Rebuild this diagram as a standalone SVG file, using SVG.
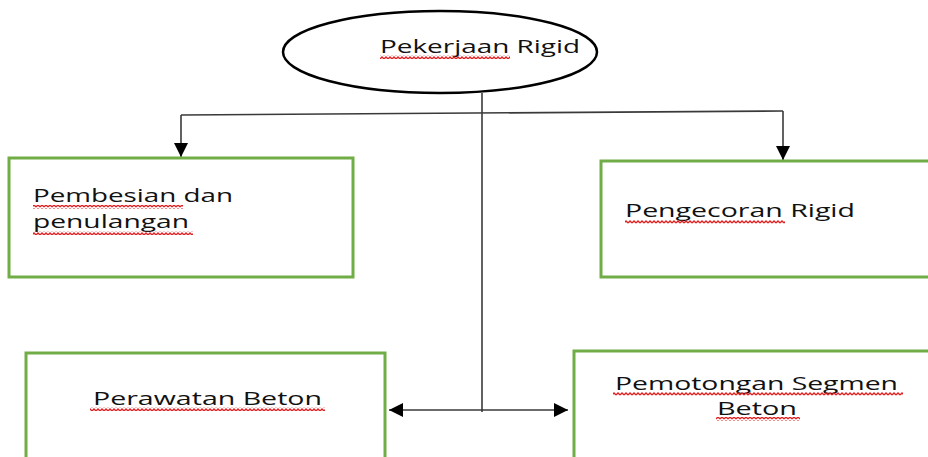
<svg xmlns="http://www.w3.org/2000/svg" width="928" height="457" viewBox="0 0 928 457">
<style>
.box{fill:#fff;stroke:#70AD47;stroke-width:3}
.t{font-family:"Open Sans","Liberation Sans",sans-serif;font-size:19px;fill:#111}
.ln{fill:none;stroke:#3a3a3a;stroke-width:1.6}
.sq{fill:url(#wave)}
</style>
<defs>
<pattern id="wave" width="4" height="4" patternUnits="userSpaceOnUse">
<path d="M0 3 L2 1 L4 3" fill="none" stroke="#e02020" stroke-width="1.3"/>
</pattern>
<marker id="ah" viewBox="0 0 10 10" refX="10" refY="5" markerWidth="14" markerHeight="14" markerUnits="userSpaceOnUse" orient="auto">
<path d="M0 0 L10 5 L0 10 Z" fill="#000"/>
</marker>
</defs>
<rect width="928" height="457" fill="#fff"/>
<g id="connectors">
<path class="ln" d="M482 93 V412"/>
<path class="ln" d="M181 115 L783 111"/>
<path class="ln" d="M181 115 V157" marker-end="url(#ah)"/>
<path class="ln" d="M783 111 V160" marker-end="url(#ah)"/>
<path class="ln" d="M482 410 H389" marker-end="url(#ah)"/>
<path class="ln" d="M482 410 H568" marker-end="url(#ah)"/>
</g>
<g id="root">
<ellipse cx="440" cy="52" rx="157" ry="41" fill="#fff" stroke="#000" stroke-width="2.5"/>
<text class="t" x="380" y="53" textLength="200" lengthAdjust="spacingAndGlyphs">Pekerjaan Rigid</text>
<rect class="sq" x="380" y="55" width="130" height="4"/>
</g>
<g id="pembesian">
<rect class="box" x="9" y="158" width="344" height="119"/>
<text class="t" x="33" y="202" textLength="200" lengthAdjust="spacingAndGlyphs">Pembesian dan</text>
<text class="t" x="33" y="228" textLength="156" lengthAdjust="spacingAndGlyphs">penulangan</text>
<rect class="sq" x="33" y="205" width="150" height="4"/>
<rect class="sq" x="33" y="231" width="160" height="4"/>
</g>
<g id="pengecoran">
<rect class="box" x="601" y="161" width="330" height="116"/>
<text class="t" x="625" y="217" textLength="230" lengthAdjust="spacingAndGlyphs">Pengecoran Rigid</text>
<rect class="sq" x="625" y="220" width="160" height="4"/>
</g>
<g id="perawatan">
<rect class="box" x="26" y="353" width="359" height="110"/>
<text class="t" x="93" y="405" textLength="229" lengthAdjust="spacingAndGlyphs">Perawatan Beton</text>
<rect class="sq" x="90" y="407" width="235" height="4"/>
</g>
<g id="pemotongan">
<rect class="box" x="574" y="351" width="360" height="112"/>
<text class="t" x="615" y="390" textLength="283" lengthAdjust="spacingAndGlyphs">Pemotongan Segmen</text>
<text class="t" x="717" y="415" textLength="80" lengthAdjust="spacingAndGlyphs">Beton</text>
<rect class="sq" x="613" y="392" width="290" height="4"/>
<rect class="sq" x="716" y="417" width="84" height="4"/>
</g>
</svg>
